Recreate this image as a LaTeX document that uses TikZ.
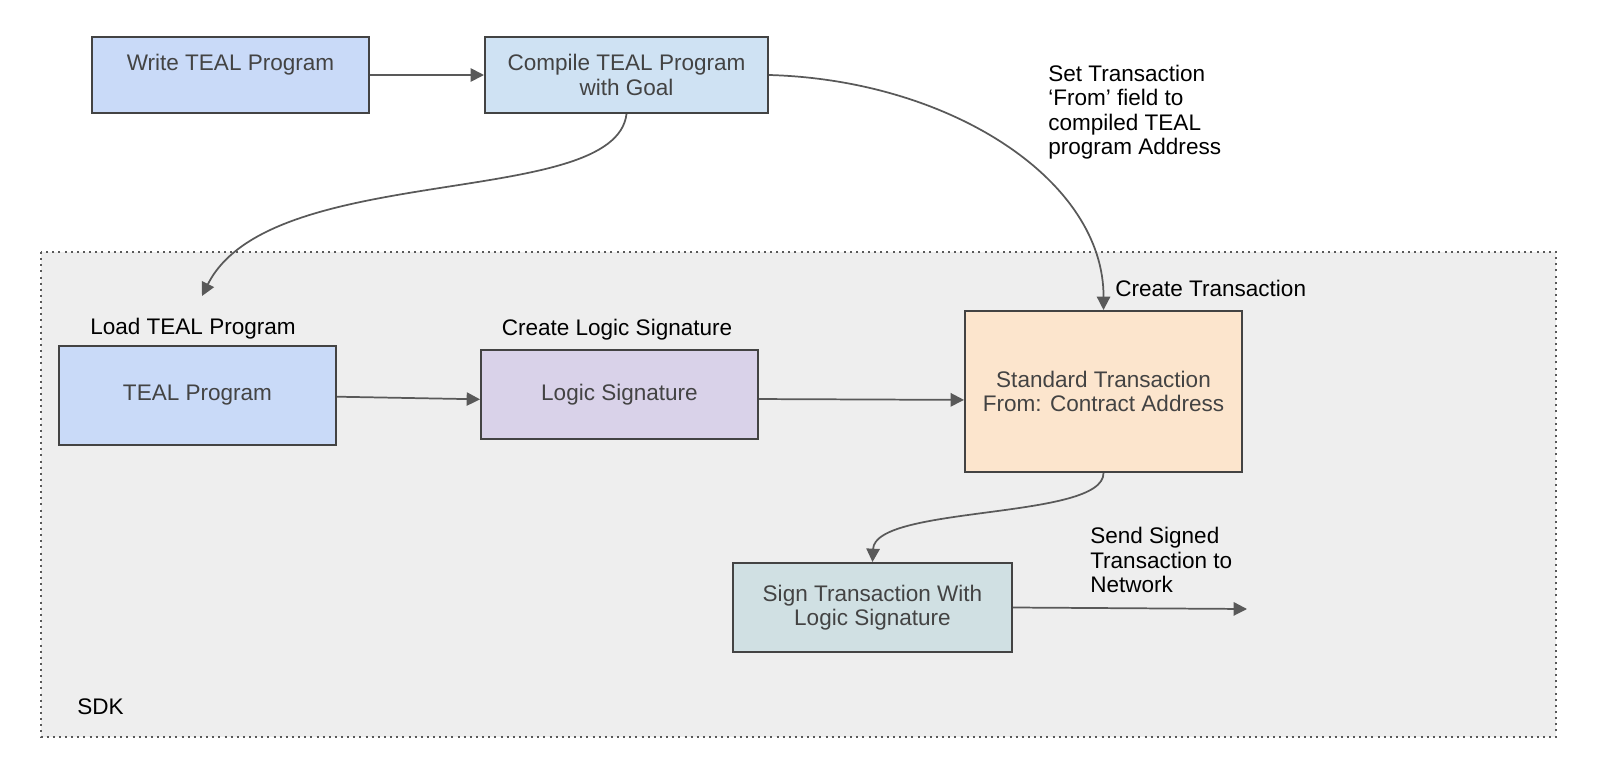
\documentclass[tikz,border=0pt]{standalone}
\usepackage{fontspec}
\setmainfont{Liberation Sans}
\usepackage{tikz}
\usetikzlibrary{arrows.meta}

\definecolor{writefill}{HTML}{C9DAF8}
\definecolor{compilefill}{HTML}{CFE2F3}
\definecolor{logicfill}{HTML}{D9D2E9}
\definecolor{stdfill}{HTML}{FCE5CD}
\definecolor{signfill}{HTML}{D0E0E3}
\definecolor{sdkfill}{HTML}{EEEEEE}
\definecolor{boxline}{HTML}{434343}
\definecolor{boxtext}{HTML}{434343}
\definecolor{connline}{HTML}{595959}

\tikzset{
  box/.style={draw=boxline, line width=1.5pt, text=boxtext, align=center, inner sep=0.75pt,
    font=\fontsize{16.9}{18.4}\selectfont},
  lbl/.style={text=black, align=left, inner sep=0.75pt, font=\fontsize{16.9}{18.4}\selectfont},
  conn/.style={draw=connline, line width=1.3pt, -{Triangle[length=10pt,width=10pt]}}
}

\begin{document}
\begin{tikzpicture}[x=0.75pt,y=0.75pt,yscale=-1,xscale=1]
\useasboundingbox (0,0) rectangle (1600,768);

%Shape: Rectangle (SDK area)
\draw [fill=sdkfill, draw=connline, line width=1.5pt, dash pattern=on 1.5pt off 3.1pt] (41,252) rectangle (1556,737);

%Shape: Rectangle
\node [box, fill=writefill, minimum width=207.75pt, minimum height=57pt] (write) at (230.5,75) {Write TEAL Program\\\mbox{}};
%Shape: Rectangle
\node [box, fill=compilefill, minimum width=212.25pt, minimum height=57pt] (compile) at (626.5,75) {Compile TEAL Program\\with Goal};
%Shape: Rectangle
\node [box, fill=writefill, minimum width=207.75pt, minimum height=74.25pt] (teal) at (197.5,395.5) {TEAL Program};
%Shape: Rectangle
\node [box, fill=logicfill, minimum width=207.75pt, minimum height=66.75pt] (logic) at (619.5,394.5) {Logic Signature};
%Shape: Rectangle
\node [box, fill=stdfill, minimum width=207.75pt, minimum height=120.75pt] (std) at (1103.5,391.5) {Standard Transaction\\From: Contract Address};
%Shape: Rectangle
\node [box, fill=signfill, minimum width=209.25pt, minimum height=66.75pt] (sign) at (872.5,607.5) {Sign Transaction With\\Logic Signature};

% Text Node
\node [lbl, anchor=west] (setfrom) at (1047,112) {Set Transaction\\‘From’ field to\\compiled TEAL\\program Address};
% Text Node
\node [lbl, anchor=west] (createtx) at (1114,288) {Create Transaction};
% Text Node
\node [lbl] (loadlbl) at (193,329) {Load TEAL Program};
% Text Node
\node [lbl] (createls) at (617,330) {Create Logic Signature};
% Text Node
\node [lbl, anchor=west] (sendlbl) at (1089,560) {Send Signed\\Transaction to\\Network};
% Text Node
\node [lbl, anchor=west] (sdklbl) at (76,707) {SDK};

\coordinate (netend) at (1247,609);

%Connectors
\draw [conn] (write.east) -- (compile.west);
\draw [conn] (compile.south) .. controls (615,210) and (270,160) .. (202,296);
\draw [conn] (compile.east) .. controls (950,80) and (1104,180) .. (std.north);
\draw [conn] ([yshift=0.9pt]teal.east) -- ([yshift=3.6pt]logic.west);
\draw [conn] ([yshift=3.4pt]logic.east) -- ([yshift=6.3pt]std.west);
\draw [conn] (std.south) .. controls (1104,520) and (875,505) .. (sign.north);
\draw [conn] (sign.east) -- (netend);
\end{tikzpicture}
\end{document}
